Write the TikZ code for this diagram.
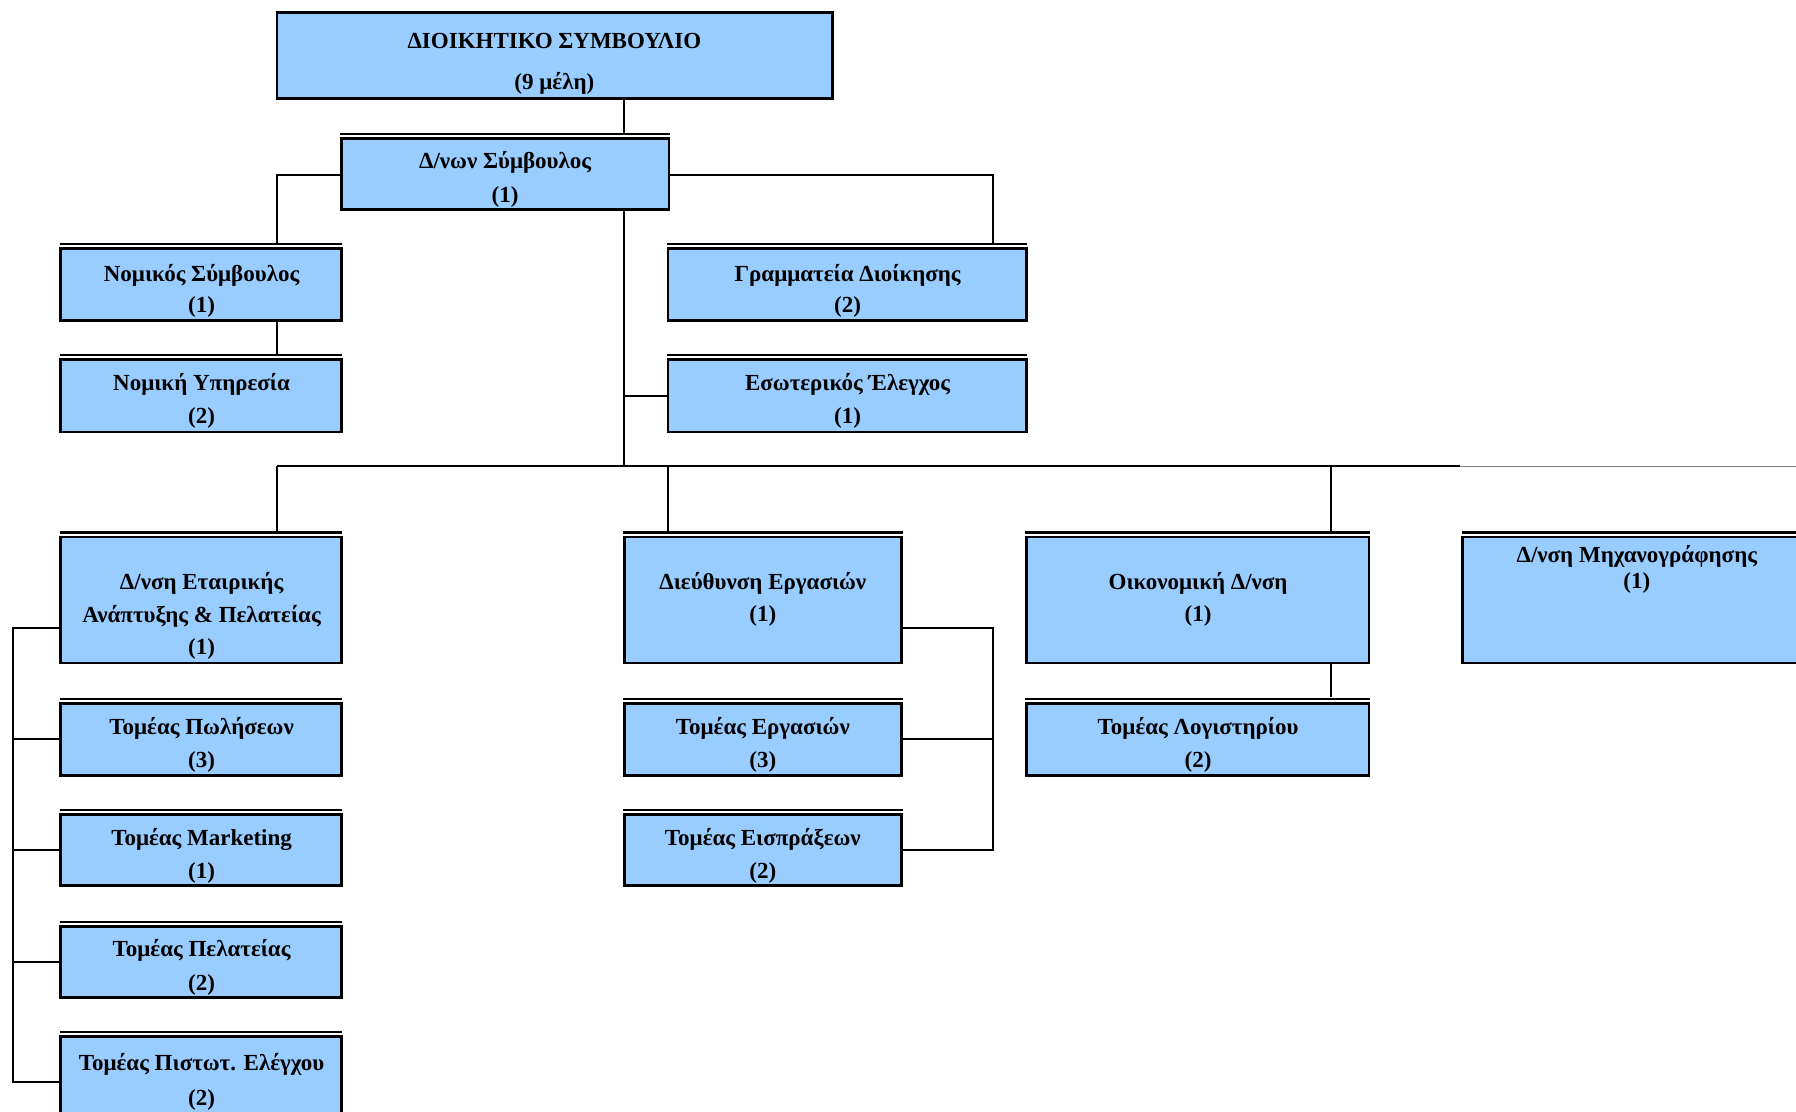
\documentclass[tikz,border=0pt]{standalone}
\usepackage{fontspec}
\setmainfont{Liberation Serif}
\usetikzlibrary{fit}
\definecolor{boxblue}{HTML}{99CCFF}
\newcommand\orgboxplain[5]{%
  \node[box, fit={(#2,#3) (#4,#5)}] (#1) {};
}
\newcommand\orgbox[5]{%
  \orgboxplain{#1}{#2}{#3}{#4}{#5}
  \draw[topline] (#2-1,#3-4) -- (#4+1,#3-4);
}
\begin{document}
\begin{tikzpicture}[x=0.5727pt,y=-0.5727pt,
  box/.style={draw=black,line width=1.25pt,fill=boxblue,inner sep=0pt,rectangle},
  txt/.style={font=\fontsize{11.5}{13}\selectfont\bfseries,inner sep=0pt,anchor=center},
  conn/.style={draw=black,line width=1.05pt},
  topline/.style={line width=1.2pt}]
\useasboundingbox (0,0) rectangle (1568,970);
\fill[white] (0,0) rectangle (1568,970);

% helper coordinates
\coordinate (X545) at (545,0);
\coordinate (X242) at (242,0);
\coordinate (X867) at (867,0);
\coordinate (Y153) at (0,153);
\coordinate (busL) at (242,407);
\coordinate (busC) at (545,407);
\coordinate (busOps) at (583,407);
\coordinate (busFin) at (1162,407);
\coordinate (busR) at (1275,407);
\coordinate (busEnd) at (1568,407);
\coordinate (spTop) at (11,548);
\coordinate (rTop) at (867,548);

% boxes
\orgboxplain{board}{242}{11}{727}{86}
\orgbox{ceo}{298}{121}{584}{183}
\orgbox{legal}{53}{217}{298}{280}
\orgbox{legsrv}{53}{314}{298}{377}
\orgbox{secr}{583}{217}{896}{280}
\orgbox{audit}{583}{314}{896}{377}
\orgbox{dev}{53}{469}{298}{579}
\orgbox{ops}{545}{469}{787}{579}
\orgbox{fin}{896}{469}{1195}{579}
\orgbox{it}{1277}{469}{1575}{579}
\orgbox{sales}{53}{614}{298}{677}
\orgbox{mkt}{53}{711}{298}{773}
\orgbox{cust}{53}{809}{298}{871}
\orgbox{credit}{53}{905}{298}{985}
\orgbox{work}{545}{614}{787}{677}
\orgbox{coll}{545}{711}{787}{773}
\orgbox{acct}{896}{614}{1195}{677}

% connectors
\draw[conn] (board.south -| X545) -- ([yshift=2.3pt]ceo.north -| X545);
\draw[conn] (ceo.west |- Y153) -| ([yshift=2.3pt]legal.north -| X242);
\draw[conn] (ceo.east |- Y153) -| ([yshift=2.3pt]secr.north -| X867);
\draw[conn] (legal.south -| X242) -- ([yshift=2.3pt]legsrv.north -| X242);
\draw[conn] (ceo.south -| X545) -- (busC);
\draw[conn] (audit.west) -- (audit.west -| X545);
\draw[conn] (busL) -- (busR);
\draw[draw=gray,line width=0.5pt] (busR) -- (busEnd);
\draw[conn] (busL) -- ([yshift=2.3pt]dev.north -| busL);
\draw[conn] (busOps) -- ([yshift=2.3pt]ops.north -| busOps);
\draw[conn] (busFin) -- ([yshift=2.3pt]fin.north -| busFin);
\draw[conn] (fin.south -| busFin) -- ([yshift=2.3pt]acct.north -| busFin);
\draw[conn] (dev.west |- spTop) -- (spTop) -- (spTop |- credit.west) -- (credit.west);
\draw[conn] (sales.west) -- (sales.west -| spTop);
\draw[conn] (mkt.west) -- (mkt.west -| spTop);
\draw[conn] (cust.west) -- (cust.west -| spTop);
\draw[conn] (ops.east |- rTop) -- (rTop) -- (rTop |- coll.east) -- (coll.east);
\draw[conn] (work.east) -- (work.east -| rTop);

% texts
\node[txt] (t1) at (484,36) {ΔΙΟΙΚΗΤΙΚΟ ΣΥΜΒΟΥΛΙΟ};
\node[txt] (t2) at (484,73) {(9 μέλη)};
\node[txt] (t3) at (441,142) {Δ/νων Σύμβουλος};
\node[txt] (t4) at (441,172) {(1)};
\node[txt] (t5) at (176,240) {Νομικός Σύμβουλος};
\node[txt] (t6) at (176,268) {(1)};
\node[txt] (t7) at (176,336) {Νομική Υπηρεσία};
\node[txt] (t8) at (176,365) {(2)};
\node[txt] (t9) at (740,240) {Γραμματεία Διοίκησης};
\node[txt] (t10) at (740,268) {(2)};
\node[txt] (t11) at (740,336) {Εσωτερικός Έλεγχος};
\node[txt] (t12) at (740,365) {(1)};
\node[txt] (t13) at (176,509) {Δ/νση Εταιρικής};
\node[txt] (t14) at (176,538) {Ανάπτυξης \& Πελατείας};
\node[txt] (t15) at (176,567) {(1)};
\node[txt] (t16) at (666,509) {Διεύθυνση Εργασιών};
\node[txt] (t17) at (666,538) {(1)};
\node[txt] (t18) at (1046,509) {Οικονομική Δ/νση};
\node[txt] (t19) at (1046,538) {(1)};
\node[txt] (t20) at (1429,486) {Δ/νση Μηχανογράφησης};
\node[txt] (t21) at (1429,509) {(1)};
\node[txt] (t22) at (176,636) {Τομέας Πωλήσεων};
\node[txt] (t23) at (176,665) {(3)};
\node[txt] (t24) at (176,733) {Τομέας Marketing};
\node[txt] (t25) at (176,762) {(1)};
\node[txt] (t26) at (176,830) {Τομέας Πελατείας};
\node[txt] (t27) at (176,860) {(2)};
\node[txt] (t28) at (176,929) {Τομέας Πιστωτ. Ελέγχου};
\node[txt] (t29) at (176,960) {(2)};
\node[txt] (t30) at (666,636) {Τομέας Εργασιών};
\node[txt] (t31) at (666,665) {(3)};
\node[txt] (t32) at (666,733) {Τομέας Εισπράξεων};
\node[txt] (t33) at (666,762) {(2)};
\node[txt] (t34) at (1046,636) {Τομέας Λογιστηρίου};
\node[txt] (t35) at (1046,665) {(2)};
\end{tikzpicture}
\end{document}
